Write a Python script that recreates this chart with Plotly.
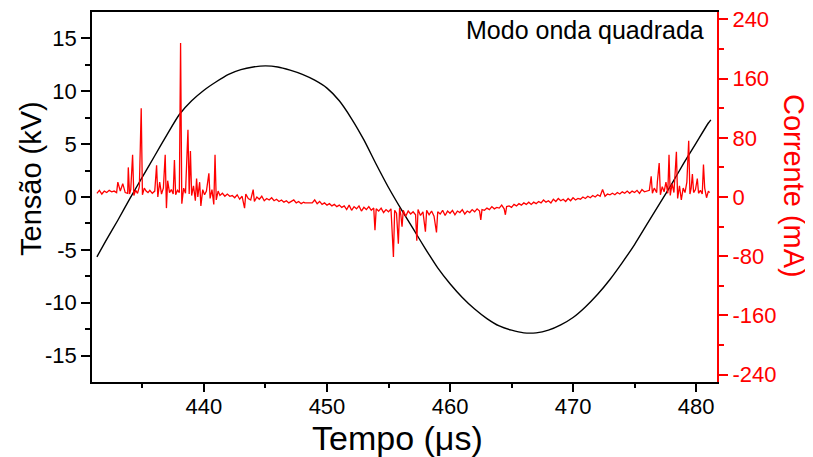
import plotly.graph_objects as go

# ---------------- data ----------------
volt_time = [431.3, 432, 433, 434, 435, 436, 437, 438, 439, 440, 441, 442, 443, 444, 445,
             446, 447, 448, 449, 450, 451, 452, 453, 454, 455, 456, 457, 458, 459, 460,
             461, 462, 463, 464, 465, 466, 467, 468, 469, 470, 471, 472, 473, 474, 475,
             476, 477, 478, 479, 480, 481, 481.2]
volt_kv = [-5.66, -4.2, -2.2, -0.1, 1.9, 3.9, 5.9, 7.8, 9.1, 10.1, 10.9, 11.6, 12.05, 12.3, 12.4,
           12.3, 12.0, 11.6, 11.05, 10.3, 9.1, 7.4, 5.4, 3.1, 0.9, -1.1, -3.0, -4.9, -6.7, -8.2,
           -9.5, -10.6, -11.5, -12.2, -12.6, -12.85, -12.85, -12.6, -12.1, -11.4, -10.4, -9.2, -7.8, -6.2, -4.5,
           -2.6, -0.7, 1.2, 3.2, 5.1, 7.0, 7.3]

current_samples = [
    (431.3, 5), (431.5, 9), (431.7, 4), (431.9, 8), (432.1, 6), (432.3, 9), (432.5, 7), (432.7, 8),
    (432.9, 6), (433.0, 20), (433.2, 8), (433.4, 18), (433.6, 6), (433.8, 5), (433.85, 40), (433.95, 4),
    (434.05, 10), (434.2, 57), (434.3, 2), (434.45, 9), (434.6, 5), (434.75, 14), (434.9, 120), (435.0, 3),
    (435.15, 12), (435.3, 8), (435.45, 6), (435.6, 9), (435.8, 5), (436.0, 8), (436.15, 43), (436.25, 0),
    (436.4, 20), (436.55, 4), (436.7, 12), (436.85, 57), (436.95, -15), (437.05, 22), (437.2, 6), (437.35, 10),
    (437.5, 4), (437.6, 50), (437.7, 3), (437.85, 9), (438.0, 6), (438.1, 208), (438.2, -9), (438.35, 12),
    (438.5, 5), (438.7, 91), (438.8, 4), (438.9, 62), (439.0, 2), (439.15, 15), (439.3, -5), (439.4, 25),
    (439.5, 0), (439.65, 20), (439.75, -12), (439.9, 10), (440.05, 3), (440.2, 8), (440.4, 32), (440.5, -2),
    (440.65, 10), (440.8, -10), (440.9, 57), (441.0, -4), (441.15, 8), (441.3, 2), (441.5, 5), (441.7, 1),
    (441.9, 4), (442.1, 1), (442.3, 2), (442.5, -1), (442.7, 3), (442.9, -3), (443.1, 1), (443.3, -15),
    (443.4, 4), (443.6, -2), (443.8, -4), (444.0, 10), (444.1, -6), (444.3, 0), (444.5, -3), (444.7, 1),
    (444.9, -5), (445.1, -2), (445.3, -4), (445.5, -1), (445.7, -5), (445.9, -3), (446.1, -6), (446.3, -4),
    (446.5, -7), (446.7, -5), (446.9, -8), (447.1, -6), (447.3, -4), (447.5, -8), (447.7, -6), (447.9, -9),
    (448.1, -7), (448.2, -8), (448.8, -8), (449.0, -4), (449.2, -9), (449.4, -6), (449.6, -10), (449.8, -8),
    (450.0, -11), (450.2, -9), (450.4, -12), (450.6, -10), (450.8, -13), (451.0, -11), (451.2, -14), (451.4, -12),
    (451.6, -17), (451.8, -11), (452.0, -18), (452.2, -13), (452.4, -16), (452.6, -12), (452.8, -19), (453.0, -14),
    (453.2, -17), (453.4, -13), (453.6, -18), (453.8, -15), (453.9, -45), (454.0, -16), (454.2, -19), (454.4, -15),
    (454.6, -21), (454.8, -17), (455.0, -20), (455.2, -16), (455.4, -81), (455.5, -18), (455.65, -22), (455.8, -63),
    (455.9, -15), (456.0, -24), (456.1, -40), (456.2, -18), (456.4, -26), (456.6, -19), (456.8, -23), (457.0, -20),
    (457.2, -24), (457.3, -59), (457.4, -17), (457.6, -25), (457.8, -20), (458.0, -47), (458.1, -18), (458.3, -24),
    (458.5, -19), (458.7, -26), (458.9, -48), (459.0, -20), (459.2, -23), (459.4, -18), (459.6, -25), (459.8, -19),
    (460.0, -22), (460.2, -18), (460.4, -24), (460.6, -19), (460.8, -21), (461.0, -17), (461.2, -23), (461.4, -19),
    (461.6, -21), (461.8, -17), (462.0, -20), (462.2, -16), (462.4, -19), (462.5, -31), (462.6, -17), (462.8, -18),
    (463.0, -15), (463.2, -17), (463.4, -13), (463.6, -16), (463.8, -14), (464.0, -15), (464.2, -11), (464.4, -16),
    (464.5, -24), (464.6, -13), (464.8, -12), (465.0, -14), (465.2, -10), (465.4, -12), (465.6, -9), (465.8, -11),
    (466.0, -8), (466.2, -10), (466.4, -7), (466.6, -10), (466.8, -7), (467.0, -9), (467.2, -6), (467.4, -8),
    (467.6, -4), (467.8, -7), (468.0, -5), (468.2, -8), (468.4, -3), (468.6, -6), (468.8, -2), (469.0, -5),
    (469.2, -3), (469.4, -6), (469.6, -2), (469.8, -5), (470.0, -1), (470.2, -4), (470.4, -2), (470.6, -3),
    (470.8, 0), (471.0, -2), (471.2, 1), (471.4, -1), (471.6, 2), (471.8, 0), (472.0, 3), (472.2, 1),
    (472.4, 10), (472.6, 1), (472.8, 4), (473.0, 3), (473.2, 5), (473.4, 3), (473.6, 6), (473.8, 4),
    (474.0, 7), (474.2, 5), (474.4, 8), (474.6, 5), (474.8, 8), (475.0, 6), (475.2, 9), (475.4, 5),
    (475.6, 10), (475.8, 7), (476.0, 8), (476.2, 9), (476.35, 28), (476.45, 5), (476.6, 12), (476.8, 6),
    (476.85, 20), (477.0, 46), (477.1, 3), (477.25, 14), (477.4, 7), (477.55, 20), (477.7, 5), (477.8, 57),
    (477.9, 2), (478.05, 18), (478.2, 6), (478.4, 61), (478.5, -2), (478.65, 15), (478.8, -4), (478.95, 12),
    (479.1, 6), (479.25, 20), (479.4, 76), (479.5, 4), (479.6, 12), (479.7, 31), (479.8, 6), (479.95, 10),
    (480.1, 25), (480.2, 5), (480.35, 9), (480.5, 4), (480.6, 44), (480.7, 12), (480.85, -1), (481.0, 8),
    (481.1, 6),
]
current_time = [t for t, _ in current_samples]
current_ma = [v for _, v in current_samples]

x_ticks = [440, 450, 460, 470, 480]
x_minor = [435, 445, 455, 465, 475]
y_ticks = [-15, -10, -5, 0, 5, 10, 15]
y_ticklabels = ["-15", "-10", "-5", "0", "5", "10", "15"]
y_minor = [-12.5, -7.5, -2.5, 2.5, 7.5, 12.5]
y2_ticks = [-240, -160, -80, 0, 80, 160, 240]
y2_ticklabels = ["-240", "-160", "-80", "0", "80", "160", "240"]
y2_minor = [-200, -120, -40, 40, 120, 200]

# ---------------- figure ----------------
FONT = "Liberation Sans, Arial, sans-serif"
OFF = 8  # page body margin offset in the browser
W, H = 813, 457
L, T = 92 - OFF, 12 - OFF
PW, PH = 625, 370
R = W - L - PW
B = H - T - PH


def px(x):
    # x in screenshot pixels -> paper coordinate
    return (x - OFF - L) / PW


def py(y):
    return (T + PH - (y - OFF)) / PH


fig = go.Figure()
fig.add_trace(go.Scatter(x=volt_time, y=volt_kv, mode="lines",
                         line=dict(color="black", width=1.4, shape="spline", smoothing=0.6),
                         yaxis="y", hoverinfo="skip"))
fig.add_trace(go.Scatter(x=current_time, y=current_ma, mode="lines",
                         line=dict(color="#ff0000", width=1.3),
                         yaxis="y2", hoverinfo="skip"))

fig.update_layout(
    width=W, height=H,
    margin=dict(l=L, r=R, t=T, b=B, autoexpand=False),
    plot_bgcolor="white", paper_bgcolor="white",
    showlegend=False,
    font=dict(family=FONT),
    xaxis=dict(range=[430.9, 481.7], tickmode="array", tickvals=x_ticks,
               ticks="outside", ticklen=8, tickwidth=1.5, tickcolor="black",
               minor=dict(tickvals=x_minor, ticks="outside", ticklen=4, tickwidth=1.5, tickcolor="black"),
               showline=True, linecolor="black", linewidth=1.5, mirror=True,
               showgrid=False, zeroline=False, ticklabelstandoff=-4,
               tickfont=dict(family=FONT, size=22, color="black")),
    yaxis=dict(range=[-17.5, 17.5], tickmode="array", tickvals=y_ticks, ticktext=y_ticklabels,
               ticks="outside", ticklen=9, tickwidth=1.5, tickcolor="black",
               minor=dict(tickvals=y_minor, ticks="outside", ticklen=5, tickwidth=1.5, tickcolor="black"),
               showline=True, linecolor="black", linewidth=1.5,
               showgrid=False, zeroline=False, ticklabeloverflow="allow",
               tickfont=dict(family=FONT, size=22, color="black")),
    yaxis2=dict(range=[-250, 250], overlaying="y", side="right", tickmode="array",
                tickvals=y2_ticks, ticktext=y2_ticklabels,
                ticks="outside", ticklen=9, tickwidth=1.5, tickcolor="#ff0000",
                minor=dict(tickvals=y2_minor, ticks="outside", ticklen=5, tickwidth=1.5, tickcolor="#ff0000"),
                showline=True, linecolor="#ff0000", linewidth=2,
                showgrid=False, zeroline=False, ticklabeloverflow="allow",
                tickfont=dict(family=FONT, size=22, color="#ff0000")),
    annotations=[
        dict(text="Tempo (\u03bcs)", xref="paper", yref="paper", x=px(397), y=py(438),
             showarrow=False, xanchor="center", yanchor="middle",
             font=dict(family=FONT, size=34, color="black")),
        dict(text="Tens\u00e3o (kV)", xref="paper", yref="paper", x=px(31), y=py(178),
             showarrow=False, textangle=-90, xanchor="center", yanchor="middle",
             font=dict(family=FONT, size=29, color="black")),
        dict(text="Corrente (mA)", xref="paper", yref="paper", x=px(794), y=py(186),
             showarrow=False, textangle=90, xanchor="center", yanchor="middle",
             font=dict(family=FONT, size=29, color="#ff0000")),
        dict(text="Modo onda quadrada", xref="paper", yref="paper", x=px(706), y=py(30),
             showarrow=False, xanchor="right", yanchor="middle",
             font=dict(family=FONT, size=25, color="black")),
    ],
)

fig.write_html("out.html")
